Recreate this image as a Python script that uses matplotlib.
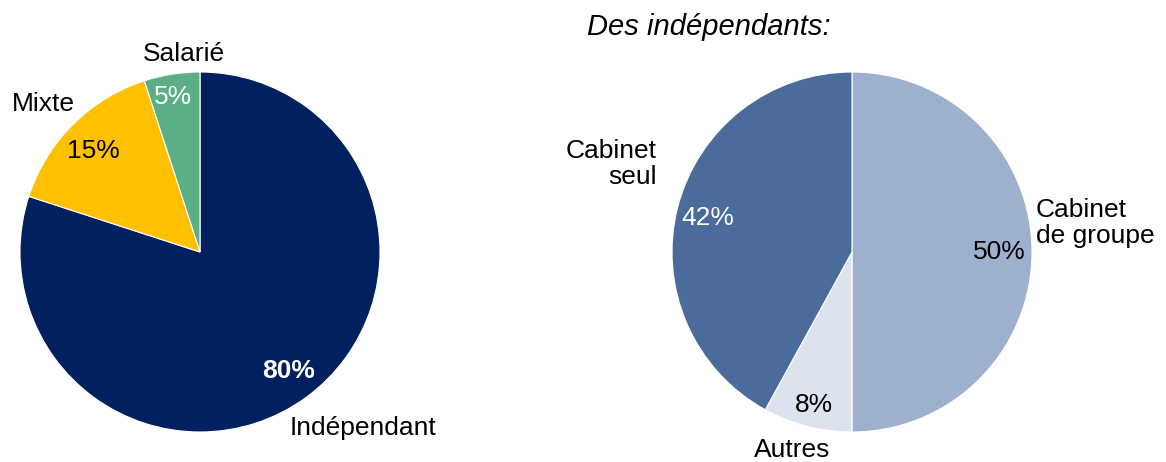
import matplotlib
matplotlib.use("Agg")
import matplotlib.pyplot as plt

plt.rcParams['font.family'] = ['Liberation Sans', 'DejaVu Sans']

# data
statut_labels = ['Indépendant', 'Mixte', 'Salarié']
statut_values = [80, 15, 5]
statut_colors = ['#002060', '#FFC000', '#5CAE84']

indep_labels = ['Cabinet de groupe', 'Autres', 'Cabinet seul']
indep_values = [50, 8, 42]
indep_colors = ['#9DB0CE', '#DCE2EE', '#4B6B9B']

W, H = 1166, 462
fig = plt.figure(figsize=(W / 100, H / 100), dpi=100)

def pie_axes(cx, cy, r):
    # axes box in pixel coords, centred on the pie
    return fig.add_axes([(cx - r) / W, (H - cy - r) / H, 2 * r / W, 2 * r / H])

fs = 19

# left pie
ax1 = pie_axes(200, 252, 180)
ax1.pie(statut_values, colors=statut_colors, startangle=90, counterclock=False,
        radius=1, wedgeprops=dict(edgecolor='white', linewidth=0.8))
ax1.set_xlim(-1, 1)
ax1.set_ylim(-1, 1)
ax1.axis('off')

ax1.text(0.49, -0.66, f'{statut_values[0]}%', color='white', fontsize=fs,
         fontweight='bold', ha='center', va='center')
ax1.text(-0.59, 0.56, f'{statut_values[1]}%', color='black', fontsize=fs,
         ha='center', va='center')
ax1.text(-0.15, 0.86, f'{statut_values[2]}%', color='white', fontsize=fs,
         ha='center', va='center')
ax1.text(0.906, -0.978, statut_labels[0], fontsize=fs, ha='center', va='center', clip_on=False)
ax1.text(-0.87, 0.82, statut_labels[1], fontsize=fs, ha='center', va='center', clip_on=False)
ax1.text(-0.09, 1.10, statut_labels[2], fontsize=fs, ha='center', va='center', clip_on=False)

# right pie
ax2 = pie_axes(852, 252, 180)
ax2.pie(indep_values, colors=indep_colors, startangle=90, counterclock=False,
        radius=1, wedgeprops=dict(edgecolor='white', linewidth=0.8))
ax2.set_xlim(-1, 1)
ax2.set_ylim(-1, 1)
ax2.axis('off')

ax2.text(0.82, 0.0, f'{indep_values[0]}%', color='black', fontsize=fs,
         ha='center', va='center')
ax2.text(-0.21, -0.85, f'{indep_values[1]}%', color='black', fontsize=fs,
         ha='center', va='center')
ax2.text(-0.80, 0.19, f'{indep_values[2]}%', color='white', fontsize=fs,
         ha='center', va='center')
ax2.text(1.02, 0.16, 'Cabinet\nde groupe', fontsize=fs, ha='left', va='center',
         linespacing=1.1, clip_on=False)
ax2.text(-0.33, -1.10, indep_labels[1], fontsize=fs, ha='center', va='center', clip_on=False)
ax2.text(-1.083, 0.49, 'Cabinet\nseul', fontsize=fs, ha='right', va='center',
         multialignment='right', linespacing=1.1, clip_on=False)

fig.text(709 / W, 1 - 27 / H, 'Des indépendants:', fontsize=21, style='italic',
         ha='center', va='center')

fig.savefig('out.png', dpi=100)
